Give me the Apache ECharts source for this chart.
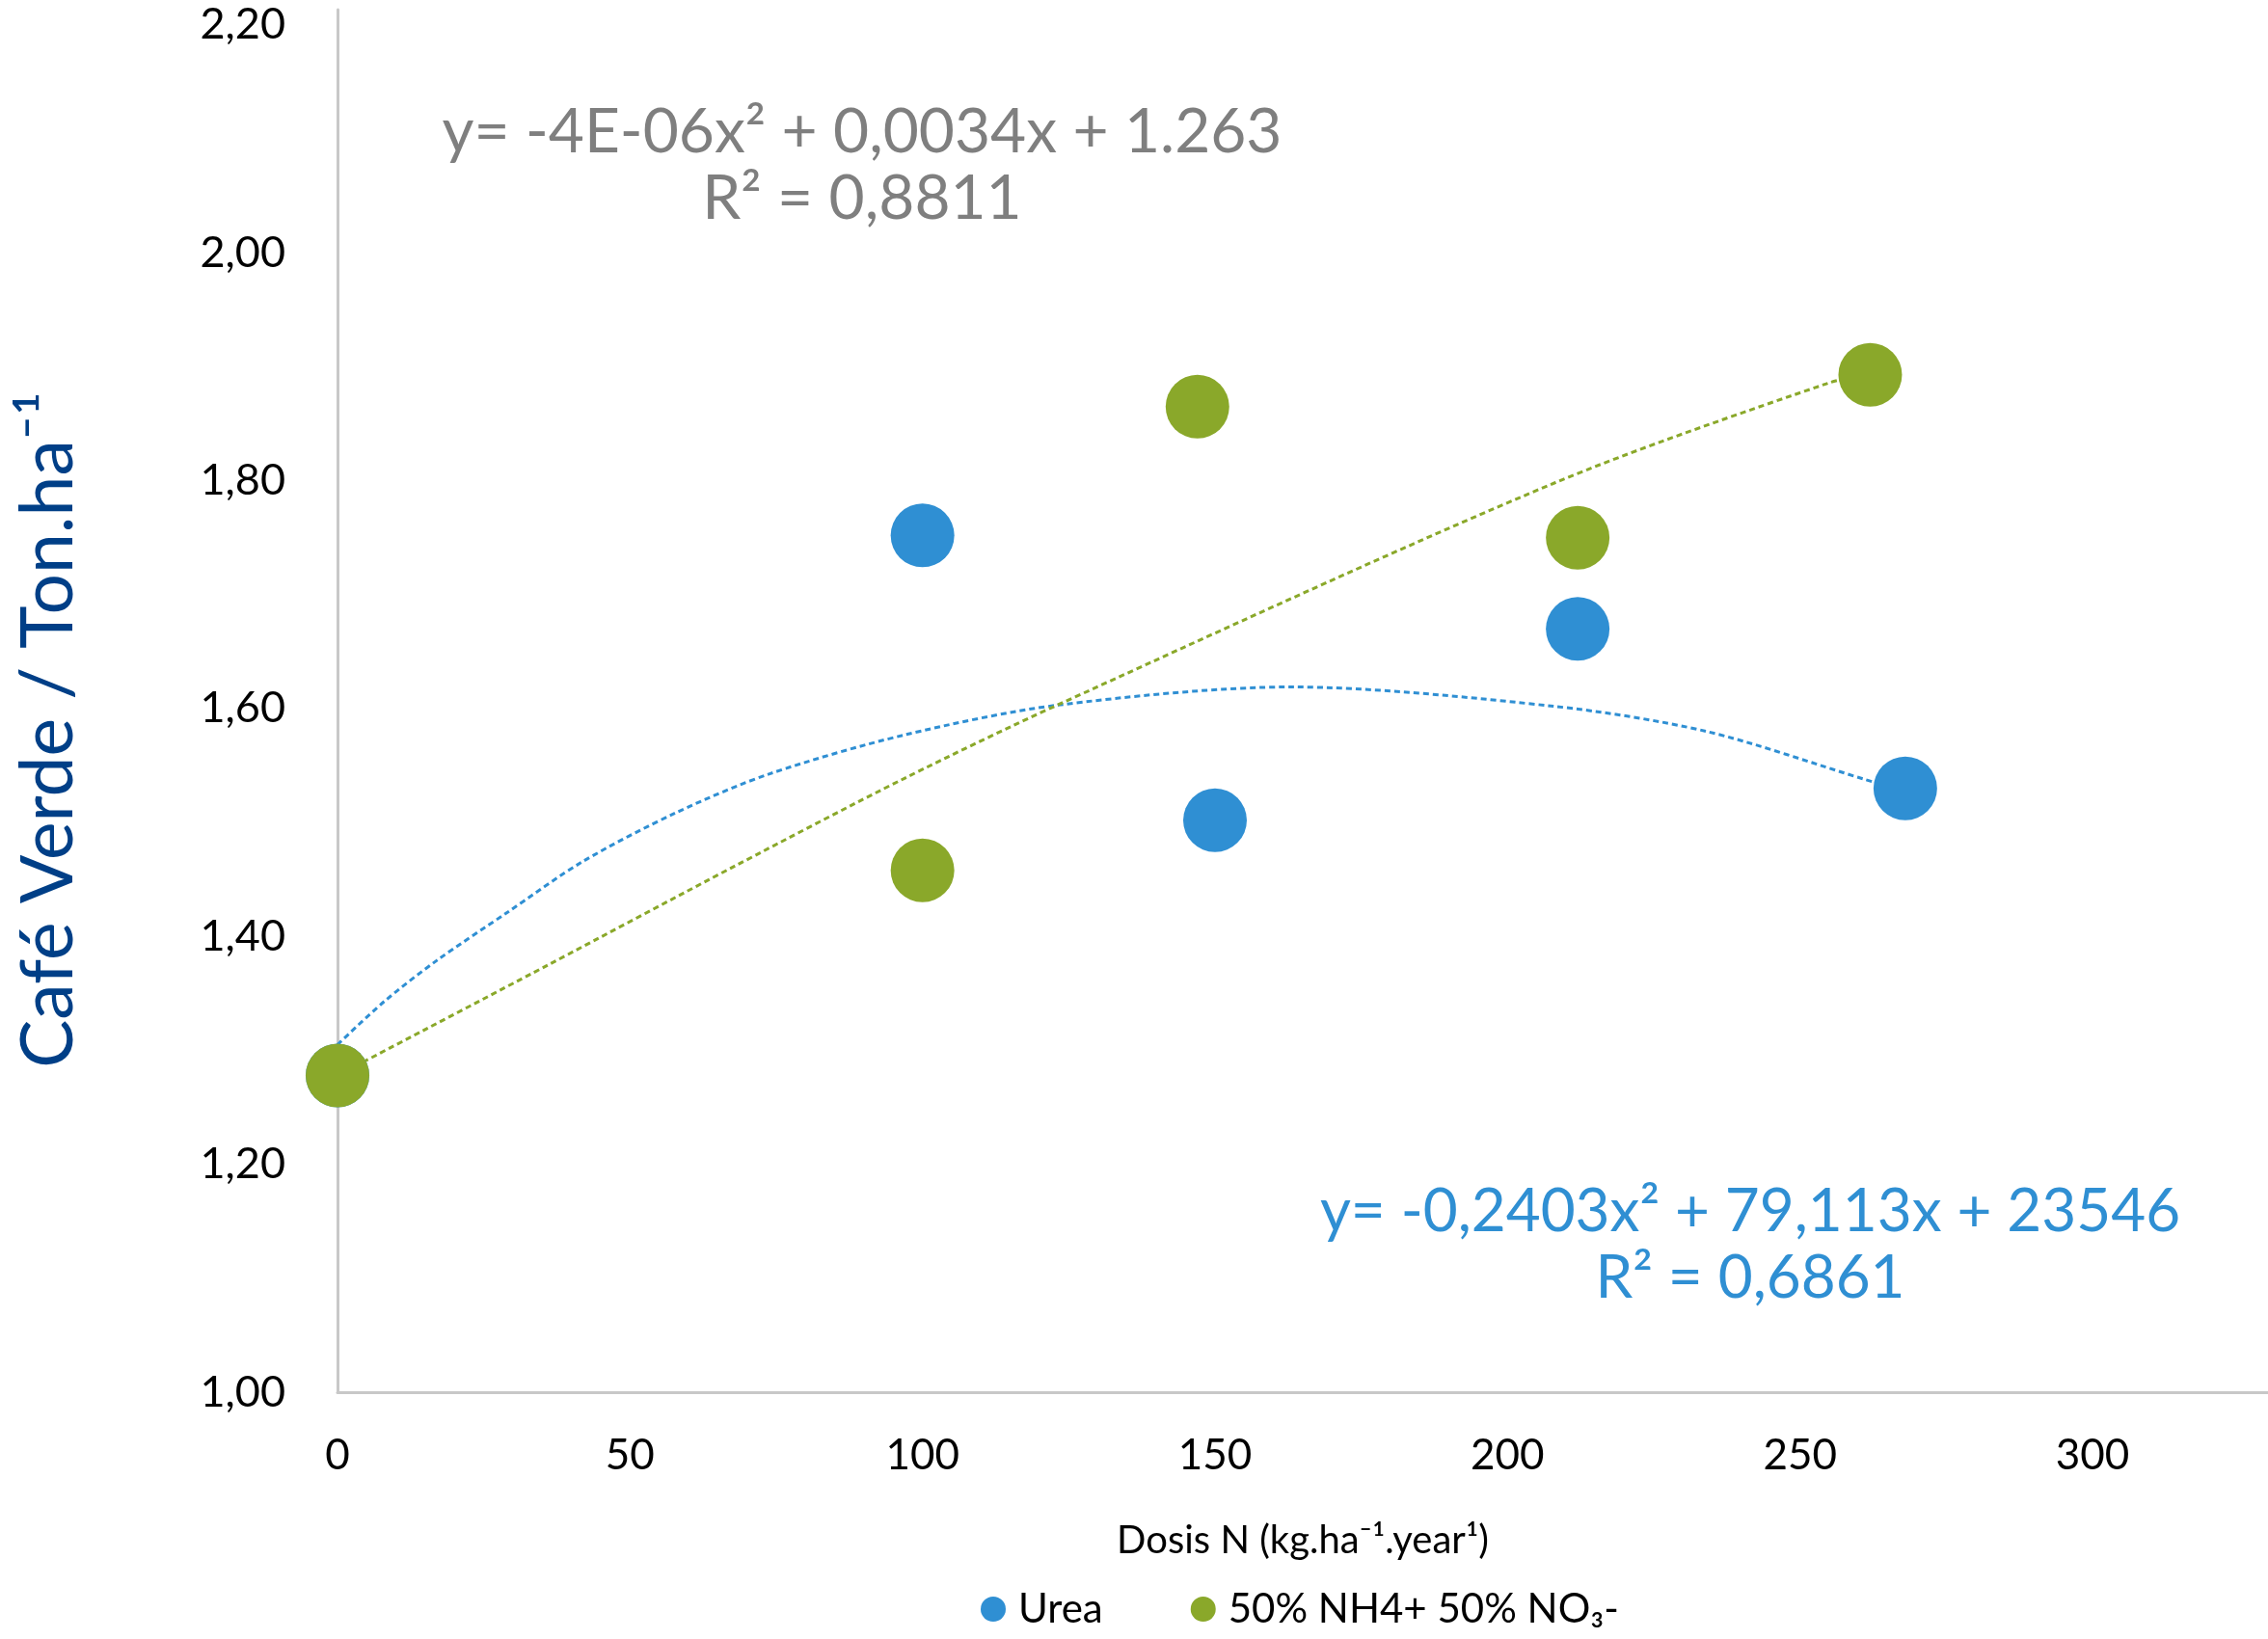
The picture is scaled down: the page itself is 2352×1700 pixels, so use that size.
<!DOCTYPE html>
<html><head><meta charset="utf-8">
<script src="https://cdn.jsdelivr.net/npm/echarts@6/dist/echarts.min.js"></script>
<style>html,body{margin:0;padding:0;background:#fff}#c{width:2352px;height:1700px}</style>
</head><body><div id="c"></div>
<script>
// Data
const seriesNames = ['Urea', '50% NH4+ 50% NO\u2083-'];
const ureaX = [0, 100, 150, 212, 268];
const ureaY = [1.278, 1.752, 1.502, 1.670, 1.530];
const mixX = [0, 100, 147, 212, 262];
const mixY = [1.278, 1.458, 1.865, 1.750, 1.893];
// Trend lines, points
const ureaTrendX = [0, 8, 17, 29, 42, 58, 74, 97, 123, 163, 208, 234, 261, 268];
const ureaTrendY = [1.305, 1.343, 1.379, 1.421, 1.466, 1.509, 1.543, 1.577, 1.603, 1.619, 1.602, 1.580, 1.538, 1.527];
const mixTrendX = [0, 36, 68, 97, 123, 208, 255, 262];
const mixTrendY = [1.278, 1.375, 1.462, 1.539, 1.603, 1.798, 1.886, 1.893];
const ureaEquation = ['y= -0,2403x\u00b2 + 79,113x + 23546', 'R\u00b2 = 0,6861'];
const mixEquation = ['y= -4E-06x\u00b2 + 0,0034x + 1.263', 'R\u00b2 = 0,8811'];
const xAxisTitle = 'Dosis N (kg.ha\u207b\u00b9.year\u00b9)';
const yAxisTitle = 'Caf\u00e9 Verde / Ton.ha\u207b\u00b9';

const zip = (a, b) => a.map((v, i) => [v, b[i]]);
const FONT = 'Lato, "Open Sans", sans-serif';
const BLUE = '#2F8FD3';
const GREEN = '#8AA82A';

const chart = echarts.init(document.getElementById('c'));
chart.setOption({
  backgroundColor: '#fff',
  animation: false,
  textStyle: { fontFamily: FONT },
  grid: { left: 350, right: 0, top: 10, bottom: 256 },
  legend: {
    data: seriesNames,
    top: 1648,
    left: 1017,
    padding: 0,
    icon: 'circle',
    itemWidth: 26, itemHeight: 26,
    itemGap: 91,
    textStyle: { fontSize: 42, color: '#000', fontFamily: FONT, padding: [0, 0, 0, 8] }
  },
  xAxis: {
    type: 'value', min: 0, max: 330, interval: 50,
    name: xAxisTitle, nameLocation: 'middle', nameGap: 134,
    nameTextStyle: { fontSize: 40, color: '#000', fontFamily: FONT },
    axisLine: { show: true, lineStyle: { color: '#c8c8c8', width: 3 } },
    axisTick: { show: false },
    splitLine: { show: false },
    axisLabel: { fontSize: 44, color: '#000', margin: 44, showMaxLabel: false, fontFamily: FONT }
  },
  yAxis: {
    type: 'value', min: 1.0, max: 2.2135, interval: 0.2,
    name: yAxisTitle, nameLocation: 'middle', nameRotate: 90, nameGap: 262,
    nameTextStyle: { fontSize: 75, color: '#003F87', fontFamily: FONT, padding: [0, 60, 0, 0] },
    axisLine: { show: true, lineStyle: { color: '#c8c8c8', width: 3 } },
    axisTick: { show: false },
    splitLine: { show: false },
    axisLabel: {
      fontSize: 45, color: '#000', margin: 54, showMaxLabel: false, fontFamily: FONT,
      formatter: v => v.toFixed(2).replace('.', ',')
    }
  },
  graphic: [
    { type: 'text', x: 894, y: 172, z: 10,
      style: { text: mixEquation.join('\n'), fill: '#7f7f7f', font: '64px ' + FONT,
               align: 'center', verticalAlign: 'middle', lineHeight: 69 } },
    { type: 'text', x: 1815, y: 1291, z: 10,
      style: { text: ureaEquation.join('\n'), fill: BLUE, font: '62px ' + FONT,
               align: 'center', verticalAlign: 'middle', lineHeight: 69 } }
  ],
  series: [
    { name: 'urea-trend', type: 'line', data: zip(ureaTrendX, ureaTrendY), smooth: 0.3,
      symbol: 'none', z: 1, silent: true,
      lineStyle: { color: BLUE, width: 3, type: [6, 4] } },
    { name: 'mix-trend', type: 'line', data: zip(mixTrendX, mixTrendY), smooth: 0.3,
      symbol: 'none', z: 1, silent: true,
      lineStyle: { color: GREEN, width: 3, type: [6, 4] } },
    { name: seriesNames[0], type: 'scatter', data: zip(ureaX, ureaY), symbolSize: 66, z: 3,
      itemStyle: { color: BLUE, opacity: 1 } },
    { name: seriesNames[1], type: 'scatter', data: zip(mixX, mixY), symbolSize: 66, z: 4,
      itemStyle: { color: GREEN, opacity: 1 } }
  ]
});
</script></body></html>
